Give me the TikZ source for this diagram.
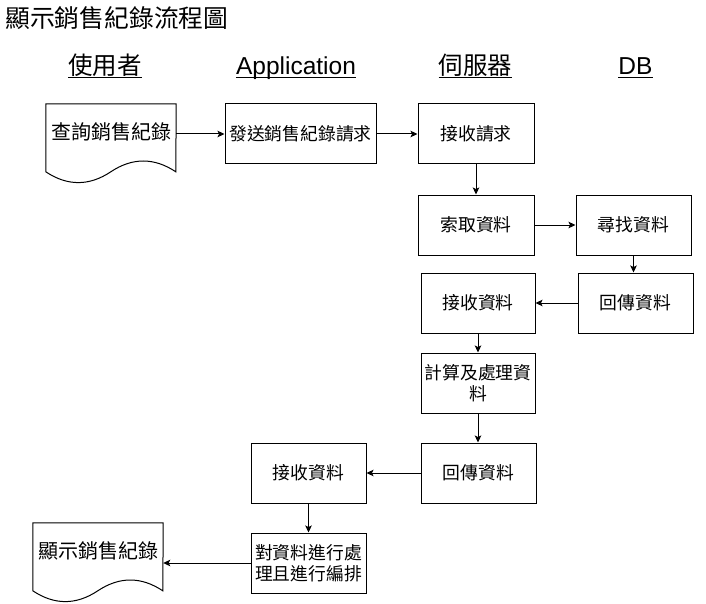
\documentclass[tikz,border=0pt]{standalone}
\usepackage{fontspec}
\setmainfont{Liberation Sans}
\newfontfamily\cjk{Noto Sans CJK TC}
\usetikzlibrary{arrows.meta,calc}
\newcommand{\docoutline}[1]{%
  \draw[docline] (#1.north west) -- (#1.north east) -- ($(#1.north west)+(130,68)$)
    .. controls ($(#1.north west)+(108.33,53.6)$) and ($(#1.north west)+(86.67,53.6)$) .. ($(#1.north west)+(65,68)$)
    .. controls ($(#1.north west)+(43.33,82.4)$) and ($(#1.north west)+(21.67,82.4)$) .. ($(#1.north west)+(0,68)$) -- cycle;}
\begin{document}
\begin{tikzpicture}[x=1pt,y=-1pt,
  box/.style={draw,line width=1pt,minimum width=115pt,minimum height=60pt,inner sep=0pt,align=center,
    font=\cjk\fontsize{17.8}{21.5}\selectfont},
  docnode/.style={minimum width=130pt,minimum height=56pt,inner sep=0pt,align=center,
    font=\cjk\fontsize{20}{24}\selectfont},
  hdr/.style={font=\fontsize{24.5}{28}\selectfont,inner sep=0pt,anchor=base},
  uline/.style={line width=1.2pt},
  arr/.style={line width=1pt,-{Stealth[length=7pt,width=6.5pt,inset=1.5pt]}},
  docline/.style={line width=1pt}]
\useasboundingbox (0,0) rectangle (706,604);
% title
\node[anchor=west,inner sep=0pt,font=\cjk\fontsize{24.8}{28}\selectfont] (title) at (5,18) {顯示銷售紀錄流程圖};
% headers
\node[hdr] (h1) at (105,75) {\cjk 使用者};
\node[hdr] (h2) at (296,75) {Application};
\node[hdr] (h3) at (475.5,75) {\cjk 伺服器};
\node[hdr] (h4) at (635.5,75) {DB};
\foreach \h in {h1,h2,h3,h4}{
  \draw[uline] ([yshift=-2.5pt]\h.base west) -- ([yshift=-2.5pt]\h.base east);
}
% documents
\node[docnode] (d1) at (111,132) {查詢銷售紀錄};
\docoutline{d1}
\node[docnode] (d2) at (98,551) {顯示銷售紀錄};
\docoutline{d2}
% boxes
\node[box,minimum width=151pt] (b1) at (300.5,134) {發送銷售紀錄請求};
\node[box,minimum width=116pt] (b2) at (476,134) {接收請求};
\node[box,minimum width=116pt] (b3) at (476,225) {索取資料};
\node[box] (b4) at (633.5,225) {尋找資料};
\node[box] (b5) at (635.5,303) {回傳資料};
\node[box,minimum width=114pt] (b6) at (478,303) {接收資料};
\node[box,minimum width=114pt] (b7) at (478,383) {計算及處理資\\料};
\node[box] (b8) at (478.5,473) {回傳資料};
\node[box] (b9) at (308.5,473) {接收資料};
\node[box] (b10) at (308.5,563) {對資料進行處\\理且進行編排};
% connectors
\draw[arr] (d1.east |- b1.west) -- (b1.west);
\draw[arr] (b1) -- (b2);
\draw[arr] (b2) -- (b3);
\draw[arr] (b3) -- (b4);
\draw[arr] (b4.south) -- (b4.south |- b5.north);
\draw[arr] (b5) -- (b6);
\draw[arr] (b6) -- (b7);
\draw[arr] (b7.south) -- (b7.south |- b8.north);
\draw[arr] (b8) -- (b9);
\draw[arr] (b9) -- (b10);
\draw[arr] (b10.west) -- (b10.west -| d2.east);
\end{tikzpicture}
\end{document}
